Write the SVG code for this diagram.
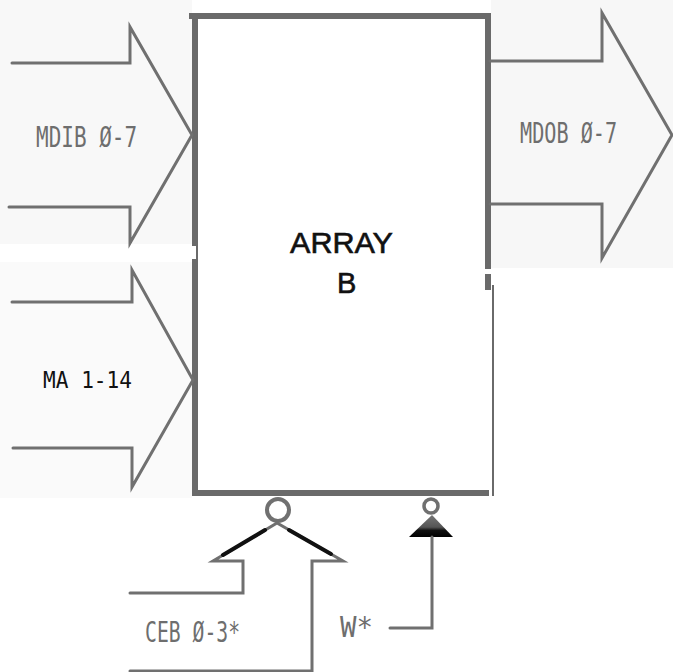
<svg xmlns="http://www.w3.org/2000/svg" width="673" height="672" viewBox="0 0 673 672">
  <style>
    .edge { stroke: #6a6a6a; stroke-width: 6; fill: none; stroke-linecap: square; }
    .thin { stroke: #6a6a6a; stroke-width: 2; fill: none; }
    .bus { stroke: #707070; stroke-width: 3; fill: none; stroke-linejoin: miter; stroke-linecap: round; }
    .ink { stroke: #111; stroke-width: 4; fill: none; stroke-linecap: round; }
    .lbl { font-family: "DejaVu Sans Mono", "Liberation Mono", monospace; font-size: 28px; fill: #6e6e6e; }
    .lblk { font-family: "DejaVu Sans Mono", "Liberation Mono", monospace; font-size: 23px; fill: #111; }
    .title { font-family: "Liberation Sans", Arial, sans-serif; font-size: 29px; fill: #111; stroke: #111; stroke-width: 0.6; }
  </style>
  <defs>
    <linearGradient id="tri" x1="0" y1="0" x2="0" y2="1">
      <stop offset="0" stop-color="#777"/>
      <stop offset="0.55" stop-color="#555"/>
      <stop offset="0.7" stop-color="#111"/>
      <stop offset="1" stop-color="#000"/>
    </linearGradient>
  </defs>
  <rect width="673" height="672" fill="#fff"/>
  <rect x="0" y="0" width="192" height="244" fill="#f8f8f8"/>
  <rect x="0" y="262" width="192" height="236" fill="#fafafa"/>
  <rect x="491" y="0" width="182" height="268" fill="#f7f7f7"/>

  <g id="array-b">
    <rect x="195" y="16" width="293" height="477" fill="#fff"/>
    <line class="edge" x1="192" y1="16" x2="488" y2="16"/>
    <line class="edge" x1="195" y1="16" x2="195" y2="243"/>
    <line class="thin" x1="197" y1="243" x2="197" y2="260"/>
    <line class="edge" x1="195" y1="262" x2="195" y2="493"/>
    <line class="edge" x1="488" y1="16" x2="488" y2="266"/>
    <rect x="485" y="274" width="6" height="16" fill="#6a6a6a"/>
    <line class="thin" x1="493" y1="285" x2="493" y2="496"/>
    <line class="edge" x1="195" y1="493" x2="486" y2="493"/>
    <text class="title" x="290" y="253" textLength="103" lengthAdjust="spacingAndGlyphs">ARRAY</text>
    <text class="title" x="337" y="293">B</text>
  </g>

  <g id="connectors">
    <g id="mdib">
      <polyline class="bus" points="12,63 130,63 130,27 192,135 130,243 130,207 9,207"/>
      <text class="lbl" x="36" y="147" textLength="101" lengthAdjust="spacingAndGlyphs">MDIB Ø-7</text>
    </g>
    <g id="mdob">
      <polyline class="bus" points="490,61 602,61 602,13 672,135 602,258 602,204 490,204"/>
      <text class="lbl" x="520" y="143" textLength="97" lengthAdjust="spacingAndGlyphs">MDOB Ø-7</text>
    </g>
    <g id="ma">
      <polyline class="bus" points="12,302 132,302 132,270 193,380 132,487 132,448 13,448"/>
      <text class="lblk" x="43" y="388" textLength="89" lengthAdjust="spacingAndGlyphs">MA 1-14</text>
    </g>
    <g id="ceb">
      <circle cx="278" cy="510" r="11" fill="#fff" stroke="#707070" stroke-width="4"/>
      <polyline class="bus" points="130,593 243,593 243,561 213,561 277,523 343,561 312,561 312,671 130,671"/>
      <line class="ink" x1="223" y1="555" x2="265" y2="530"/>
      <line class="ink" x1="289" y1="530" x2="331" y2="554"/>
      <text class="lbl" x="145" y="642" textLength="95" lengthAdjust="spacingAndGlyphs">CEB Ø-3*</text>
    </g>
    <g id="w">
      <circle cx="431" cy="506" r="7" fill="#fff" stroke="#707070" stroke-width="3.5"/>
      <polygon points="432,515 409,537 453,537" fill="url(#tri)"/>
      <polyline class="bus" points="432,537 432,628 390,628"/>
      <text class="lbl" x="340" y="637" textLength="33" lengthAdjust="spacingAndGlyphs">W*</text>
    </g>
  </g>
</svg>
